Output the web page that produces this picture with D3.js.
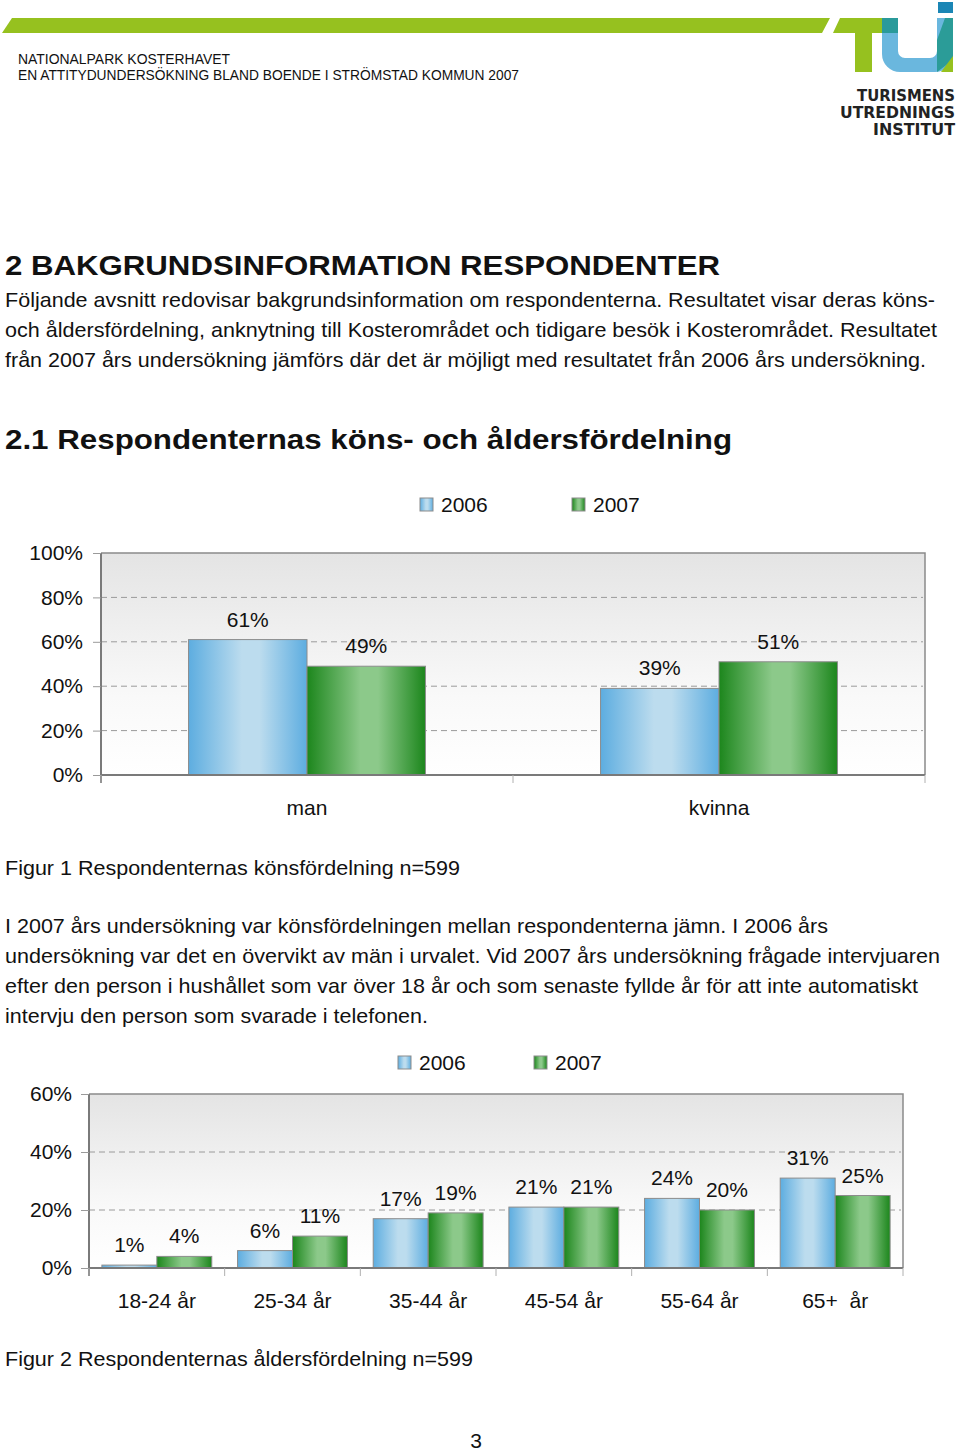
<!DOCTYPE html>
<html>
<head>
<meta charset="utf-8">
<script src="https://cdn.jsdelivr.net/npm/d3@7"></script>
<style>
  body { margin: 0; background: #fff; }
  svg text { font-family: "Liberation Sans", Arial, Helvetica, sans-serif; fill: #111; }
</style>
</head>
<body>
<script>
// data
const seriesNames = ['2006', '2007']
const sexCategories = ['man', 'kvinna']
const sex2006 = [0.61, 0.39]
const sex2007 = [0.49, 0.51]
const sexTicks = [0, 0.2, 0.4, 0.6, 0.8, 1]

const ageCategories = ['18-24 år', '25-34 år', '35-44 år', '45-54 år', '55-64 år', '65+  år']
const age2006 = [0.01, 0.06, 0.17, 0.21, 0.24, 0.31]
const age2007 = [0.04, 0.11, 0.19, 0.21, 0.20, 0.25]
const ageTicks = [0, 0.2, 0.4, 0.6]

const W = 960, H = 1453
const svg = d3.select('body').append('svg')
    .attr('width', W)
    .attr('height', H)

const defs = svg.append('defs')

const hGrad = (id, edge, mid) => {
    const g = defs.append('linearGradient').attr('id', id)
        .attr('x1', '0%').attr('x2', '100%').attr('y1', '0%').attr('y2', '0%')
    g.append('stop').attr('offset', '0%').attr('stop-color', edge)
    g.append('stop').attr('offset', '45%').attr('stop-color', mid)
    g.append('stop').attr('offset', '60%').attr('stop-color', mid)
    g.append('stop').attr('offset', '100%').attr('stop-color', edge)
}
hGrad('g2006', '#5dade0', '#bcdcee')
hGrad('g2007', '#1c861c', '#8cc98a')

const bg = defs.append('linearGradient').attr('id', 'plotbg')
    .attr('x1', '0%').attr('x2', '0%').attr('y1', '0%').attr('y2', '100%')
bg.append('stop').attr('offset', '0%').attr('stop-color', '#e4e4e4')
bg.append('stop').attr('offset', '65%').attr('stop-color', '#f9f9f9')
bg.append('stop').attr('offset', '100%').attr('stop-color', '#ffffff')

const fills = { '2006': 'url(#g2006)', '2007': 'url(#g2007)' }

// page header
svg.append('polygon').attr('points', '2,33 12,18 830,18 822,33').attr('fill', '#96c11f')
svg.append('polygon').attr('points', '833,33 840,18 883,18 883,33').attr('fill', '#96c11f')
svg.append('rect').attr('x', 855).attr('y', 18).attr('width', 17).attr('height', 54).attr('fill', '#96c11f')
svg.append('path')
    .attr('d', 'M882,18 V54 A18,18 0 0 0 900,72 H935 A18,18 0 0 0 953,54 V18 H937 V51 A7,7 0 0 1 930,58 H905 A7,7 0 0 1 898,51 V18 Z')
    .attr('fill', '#6ab7de')
svg.append('rect').attr('x', 882).attr('y', 18).attr('width', 16).attr('height', 15).attr('fill', '#2a9a9a')
svg.append('polygon').attr('points', '945,18 953,18 953,60 937,72 937,40').attr('fill', '#2b9c98')
svg.append('polygon').attr('points', '953,56 953,72 941,72').attr('fill', '#96c11f')
svg.append('rect').attr('x', 938).attr('y', 2).attr('width', 15).attr('height', 11).attr('fill', '#1b86b5')

const logoText = [['TURISMENS', 101, 98], ['UTREDNINGS', 118, 115], ['INSTITUT', 135, 82]]
svg.selectAll('.logo').data(logoText).enter().append('text')
    .attr('class', 'logo')
    .attr('x', 955).attr('y', d => d[1])
    .attr('text-anchor', 'end')
    .attr('textLength', d => d[2]).attr('lengthAdjust', 'spacingAndGlyphs')
    .style('font-family', '"DejaVu Sans", sans-serif')
    .style('font-weight', 'bold').style('font-size', '15px').style('fill', '#222')
    .text(d => d[0])

// body text: [text, x, baseline, width, size, bold]
const lines = [
    ['NATIONALPARK KOSTERHAVET', 18, 64, 212, 14, false],
    ['EN ATTITYDUNDERSÖKNING BLAND BOENDE I STRÖMSTAD KOMMUN 2007', 18, 80, 501, 14, false],
    ['2 BAKGRUNDSINFORMATION RESPONDENTER', 5, 275, 715, 28, true],
    ['Följande avsnitt redovisar bakgrundsinformation om respondenterna. Resultatet visar deras köns-', 5, 307, 930, 21, false],
    ['och åldersfördelning, anknytning till Kosterområdet och tidigare besök i Kosterområdet. Resultatet', 5, 337, 932, 21, false],
    ['från 2007 års undersökning jämförs där det är möjligt med resultatet från 2006 års undersökning.', 5, 367, 921, 21, false],
    ['2.1 Respondenternas köns- och åldersfördelning', 5, 449, 727, 28, true],
    ['Figur 1 Respondenternas könsfördelning n=599', 5, 875, 455, 21, false],
    ['I 2007 års undersökning var könsfördelningen mellan respondenterna jämn. I 2006 års', 5, 933, 823, 21, false],
    ['undersökning var det en övervikt av män i urvalet. Vid 2007 års undersökning frågade intervjuaren', 5, 963, 935, 21, false],
    ['efter den person i hushållet som var över 18 år och som senaste fyllde år för att inte automatiskt', 5, 993, 913, 21, false],
    ['intervju den person som svarade i telefonen.', 5, 1023, 423, 21, false],
    ['Figur 2 Respondenternas åldersfördelning n=599', 5, 1366, 468, 21, false]
]
svg.selectAll('.line').data(lines).enter().append('text')
    .attr('class', 'line')
    .attr('x', d => d[1]).attr('y', d => d[2])
    .attr('textLength', d => d[3]).attr('lengthAdjust', 'spacingAndGlyphs')
    .style('font-size', d => d[4] + 'px')
    .style('font-weight', d => d[5] ? 'bold' : 'normal')
    .text(d => d[0])

svg.append('text').attr('x', 476).attr('y', 1448).attr('text-anchor', 'middle')
    .style('font-size', '21px').text('3')

// grouped bar chart
const drawChart = (cfg) => {
    const { cats, v2006, v2007, ticks, left, right, top, bottom, pad, labelPad, legend } = cfg
    const data = cats.map((c, i) => ({ cat: c, vals: [
        { key: '2006', val: v2006[i] },
        { key: '2007', val: v2007[i] }
    ] }))

    const x = d3.scaleBand().domain(cats).range([left, right])
        .paddingInner(pad).paddingOuter(pad / 2)
    const xs = d3.scaleBand().domain(seriesNames).range([0, x.bandwidth()])
    const y = d3.scaleLinear().domain([0, d3.max(ticks)]).range([bottom, top])

    const g = svg.append('g')

    g.append('rect')
        .attr('x', left).attr('y', top)
        .attr('width', right - left).attr('height', bottom - top)
        .attr('fill', 'url(#plotbg)')

    // dashed grid
    g.append('g').selectAll('line')
        .data(ticks.filter(t => t > 0 && t < d3.max(ticks)))
        .enter().append('line')
        .attr('x1', left).attr('x2', right - 2)
        .attr('y1', d => y(d)).attr('y2', d => y(d))
        .attr('stroke', '#9a9a9a').attr('stroke-width', 1)
        .attr('stroke-dasharray', '6,4')

    // frame top/right
    g.append('path')
        .attr('d', `M${left},${top}H${right}V${bottom}`)
        .attr('fill', 'none').attr('stroke', '#8a8a8a').attr('stroke-width', 1.5)

    // bars
    const grp = g.append('g').selectAll('g')
        .data(data).enter().append('g')
        .attr('transform', d => `translate(${x(d.cat)},0)`)

    grp.selectAll('rect')
        .data(d => d.vals).enter().append('rect')
        .attr('x', d => xs(d.key))
        .attr('y', d => y(d.val))
        .attr('width', xs.bandwidth())
        .attr('height', d => y(0) - y(d.val))
        .attr('fill', d => fills[d.key])
        .attr('stroke', '#8c8c8c').attr('stroke-width', 1)

    grp.selectAll('text')
        .data(d => d.vals).enter().append('text')
        .attr('x', d => xs(d.key) + xs.bandwidth() / 2)
        .attr('y', d => y(d.val) - 13)
        .attr('text-anchor', 'middle')
        .style('font-size', '21px')
        .text(d => d3.format('.0%')(d.val))

    // y axis
    const ya = g.append('g')
        .attr('transform', `translate(${left},0)`)
        .call(d3.axisLeft(y).tickValues(ticks).tickFormat(d3.format('.0%'))
            .tickSize(8).tickSizeOuter(0).tickPadding(labelPad))
    ya.select('.domain').attr('stroke', '#7a7a7a').attr('stroke-width', 2)
        .attr('d', `M0,${top}V${bottom + 8}`)
    ya.selectAll('.tick line').attr('stroke', '#9a9a9a')
    ya.selectAll('.tick text')
        .style('font-size', '21px').style('font-family', '"Liberation Sans", Arial, sans-serif')
        .attr('fill', '#111')

    // x axis
    const bounds = cats.map(c => x(c) - x.step() * pad / 2).concat([right])
    g.append('line')
        .attr('x1', left).attr('x2', right)
        .attr('y1', bottom).attr('y2', bottom)
        .attr('stroke', '#7a7a7a').attr('stroke-width', 2)
    g.append('g').selectAll('line')
        .data(bounds).enter().append('line')
        .attr('x1', d => d).attr('x2', d => d)
        .attr('y1', bottom).attr('y2', bottom + 8)
        .attr('stroke', '#b0b0b0')
    g.append('g').selectAll('text')
        .data(cats).enter().append('text')
        .attr('x', d => x(d) + x.bandwidth() / 2)
        .attr('y', bottom + 40)
        .attr('text-anchor', 'middle')
        .attr('xml:space', 'preserve')
        .style('white-space', 'pre')
        .style('font-size', '21px')
        .text(d => d)

    // legend
    const lg = g.append('g').selectAll('g')
        .data(seriesNames).enter().append('g')
        .attr('transform', (d, i) => `translate(${legend.x[i]},${legend.y})`)
    lg.append('rect')
        .attr('x', 0).attr('y', -14)
        .attr('width', 13).attr('height', 13)
        .attr('fill', d => fills[d])
        .attr('stroke', '#8c8c8c')
    lg.append('text')
        .attr('x', 21).attr('y', 0)
        .style('font-size', '21px')
        .text(d => d)
}

drawChart({
    cats: sexCategories, v2006: sex2006, v2007: sex2007, ticks: sexTicks,
    left: 101, right: 925, top: 553, bottom: 775,
    pad: 0.425, labelPad: 10,
    legend: { x: [420, 572], y: 512 }
})

drawChart({
    cats: ageCategories, v2006: age2006, v2007: age2007, ticks: ageTicks,
    left: 89, right: 903, top: 1094, bottom: 1268,
    pad: 0.19, labelPad: 9,
    legend: { x: [398, 534], y: 1070 }
})
</script>
</body>
</html>
